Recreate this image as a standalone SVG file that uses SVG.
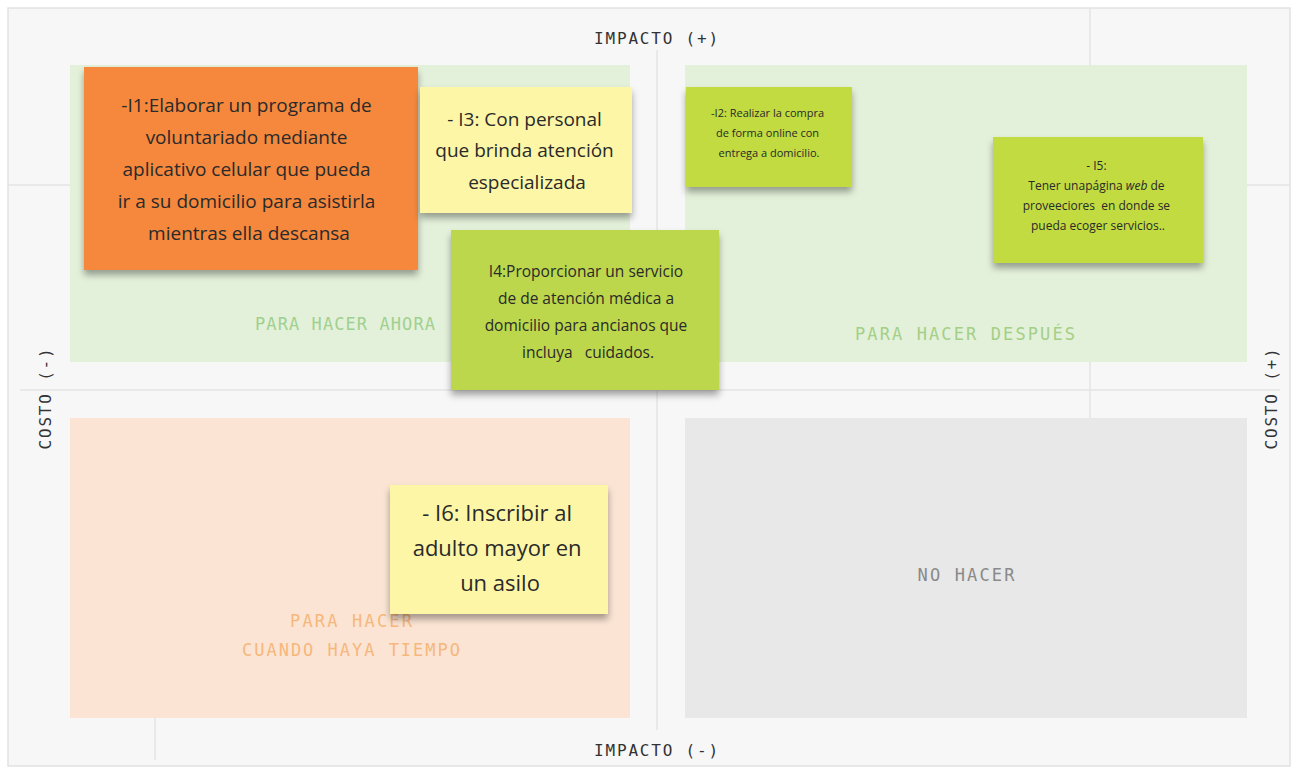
<svg xmlns="http://www.w3.org/2000/svg" width="1297" height="772" viewBox="0 0 1297 772">
<style>
.axis{font-family:"DejaVu Sans Mono","Liberation Mono",monospace;font-size:16px;fill:#333;letter-spacing:1.8px}
.qlabel{font-family:"DejaVu Sans Mono","Liberation Mono",monospace;font-size:17px;text-anchor:middle}
.note{font-family:"Open Sans","Noto Sans",sans-serif;fill:#2a2a2a;text-anchor:middle}
.grid{stroke:#e4e4e4;stroke-width:1.5;fill:none}
</style>
<defs>
<filter id="shadow" x="-10%" y="-10%" width="120%" height="130%">
<feDropShadow dx="0" dy="5" stdDeviation="3.5" flood-color="#000" flood-opacity="0.35"/>
</filter>
</defs>
<rect x="0" y="0" width="1297" height="772" fill="#ffffff"/>
<rect x="8" y="8" width="1282" height="758" fill="#f7f7f7" stroke="#e2e2e2" stroke-width="1.5"/>
<g id="grid">
<line class="grid" x1="657" y1="50" x2="657" y2="730"/>
<line class="grid" x1="20" y1="390" x2="1280" y2="390"/>
<line class="grid" x1="1090" y1="8" x2="1090" y2="418"/>
<line class="grid" x1="8" y1="185" x2="70" y2="185"/>
<line class="grid" x1="1247" y1="185" x2="1290" y2="185"/>
<line class="grid" x1="155" y1="500" x2="155" y2="760"/>
</g>
<g id="quadrants">
<rect id="q-ahora" x="70" y="65" width="560" height="297" fill="#e4f1da"/>
<rect id="q-despues" x="685" y="65" width="562" height="297" fill="#e4f1da"/>
<rect id="q-tiempo" x="70" y="418" width="560" height="300" fill="#fbe4d3"/>
<rect id="q-nohacer" x="685" y="418" width="562" height="300" fill="#e8e8e8"/>
</g>
<g id="axis-labels">
<text class="axis" x="657" y="44" text-anchor="middle">IMPACTO (+)</text>
<text class="axis" x="657" y="756" text-anchor="middle">IMPACTO (-)</text>
<text class="axis" x="0" y="0" text-anchor="middle" transform="translate(51,398) rotate(-90)">COSTO (-)</text>
<text class="axis" x="0" y="0" text-anchor="middle" transform="translate(1277,398) rotate(-90)">COSTO (+)</text>
</g>
<g id="quadrant-labels">
<text class="qlabel" x="345" y="330" fill="#9fd08f" textLength="180" lengthAdjust="spacing">PARA HACER AHORA</text>
<text class="qlabel" x="965" y="340" fill="#a3cf86" textLength="220" lengthAdjust="spacing">PARA HACER DESPUÉS</text>
<text class="qlabel" x="351" y="627" fill="#f6b77c" textLength="122" lengthAdjust="spacing">PARA HACER</text>
<text class="qlabel" x="351" y="656" fill="#f6b77c" textLength="218" lengthAdjust="spacing">CUANDO HAYA TIEMPO</text>
<text class="qlabel" x="966" y="581" fill="#8a8a8a" textLength="97" lengthAdjust="spacing">NO HACER</text>
</g>
<g id="note-i1">
<rect x="84" y="67" width="334" height="203" fill="#f5883d" filter="url(#shadow)"/>
<text class="note" font-size="19">
<tspan x="249" y="112">-I1:Elaborar un programa de</tspan>
<tspan x="249" y="144">voluntariado mediante</tspan>
<tspan x="249" y="176">aplicativo celular que pueda</tspan>
<tspan x="249" y="208">ir a su domicilio para asistirla</tspan>
<tspan x="249" y="240">mientras ella descansa</tspan>
</text>
</g>
<g id="note-i3">
<rect x="420" y="87" width="212" height="126" fill="#fdf6a6" filter="url(#shadow)"/>
<text class="note" font-size="19">
<tspan x="527" y="126">- I3: Con personal</tspan>
<tspan x="527" y="157">que brinda atención</tspan>
<tspan x="527" y="189">especializada</tspan>
</text>
</g>
<g id="note-i4">
<rect x="451" y="230" width="268" height="160" fill="#bcd74b" filter="url(#shadow)"/>
<text class="note" font-size="15.5">
<tspan x="588" y="277">I4:Proporcionar un servicio</tspan>
<tspan x="588" y="304">de de atención médica a</tspan>
<tspan x="588" y="331">domicilio para ancianos que</tspan>
<tspan x="588" y="358" xml:space="preserve">incluya   cuidados.</tspan>
</text>
</g>
<g id="note-i2">
<rect x="686" y="87" width="166" height="100" fill="#c1db3f" filter="url(#shadow)"/>
<text class="note" font-size="11">
<tspan x="769" y="117">-I2: Realizar la compra</tspan>
<tspan x="769" y="137">de forma online con</tspan>
<tspan x="769" y="157">entrega a domicilio.</tspan>
</text>
</g>
<g id="note-i5">
<rect x="993" y="137" width="210" height="126" fill="#c1db3f" filter="url(#shadow)"/>
<text class="note" font-size="12">
<tspan x="1098" y="170">- I5:</tspan>
<tspan x="1098" y="190">Tener unapágina <tspan font-style="italic">web</tspan> de</tspan>
<tspan x="1098" y="210" xml:space="preserve">proveeciores  en donde se</tspan>
<tspan x="1098" y="230">pueda ecoger servicios..</tspan>
</text>
</g>
<g id="note-i6">
<rect x="390" y="485" width="218" height="129" fill="#fdf6a6" filter="url(#shadow)"/>
<text class="note" font-size="22">
<tspan x="500" y="521">- I6: Inscribir al</tspan>
<tspan x="500" y="556">adulto mayor en</tspan>
<tspan x="500" y="591">un asilo</tspan>
</text>
</g>
<g id="connectors"></g>
</svg>
